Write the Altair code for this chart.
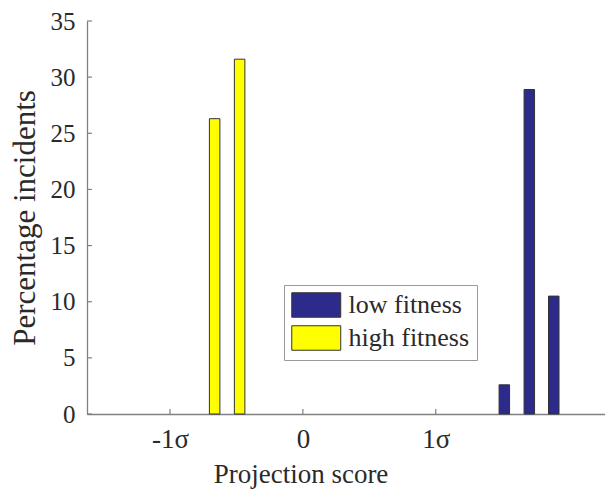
import altair as alt
import pandas as pd

# ---- data ----
group = ["high fitness", "high fitness", "low fitness", "low fitness", "low fitness"]
score = [-0.664, -0.476, 1.516, 1.704, 1.888]          # bin centres in units of sigma
percent = [26.3, 31.6, 2.6, 28.9, 10.5]                # percentage incidents

y_ticks = [0, 5, 10, 15, 20, 25, 30, 35]
x_ticks = [-1, 0, 1]
x_tick_labels = ["-1σ", "0", "1σ"]
legend_order = ["low fitness", "high fitness"]
legend_colors = ["#2c2b8c", "#ffff00"]

FONT = "Liberation Serif"
TXT = "#2a2a2a"
AX = "#808080"

df = pd.DataFrame({"group": group, "score": score, "percent": percent})
ytick_df = pd.DataFrame({"v": y_ticks})
xtick_df = pd.DataFrame({"v": x_ticks})

label_expr = " : ".join(
    f"datum.value == {v} ? '{l}'" for v, l in zip(x_ticks[:-1], x_tick_labels[:-1])
) + f" : '{x_tick_labels[-1]}'"

xscale = alt.Scale(domain=[-1.587, 2.236], nice=False, zero=False)
yscale = alt.Scale(domain=[0, 35], nice=False)

xaxis = alt.Axis(
    values=x_ticks, labelExpr=label_expr, title="Projection score",
    grid=False, ticks=False, tickSize=0, labelPadding=12, labelFontSize=27,
    labelFont=FONT, labelColor=TXT, domainColor=AX, domainWidth=1.3,
    titleFont=FONT, titleFontSize=27, titleFontWeight="normal",
    titleColor=TXT, titleX=213.5, titleY=68,
    titleBaseline="alphabetic", titleAlign="center",
)
yaxis = alt.Axis(
    values=y_ticks, title="Percentage incidents", grid=False,
    ticks=False, tickSize=0, labelPadding=12, labelFontSize=25, labelFont=FONT,
    labelColor=TXT, domainColor=AX, domainWidth=1.3,
    titleFont=FONT, titleFontSize=31, titleFontWeight="normal",
    titleColor=TXT, titleX=-53, titleY=196.5, titleAngle=270,
    titleBaseline="alphabetic", titleAlign="center",
)

bars = alt.Chart(df).mark_bar(
    size=10.5, stroke="#333333", strokeWidth=1, orient="vertical", opacity=1
).encode(
    x=alt.X("score:Q", scale=xscale, axis=xaxis),
    y=alt.Y("percent:Q", scale=yscale, stack=None, axis=yaxis),
    color=alt.Color(
        "group:N",
        scale=alt.Scale(domain=legend_order, range=legend_colors),
        legend=alt.Legend(
            title=None, orient="none", legendX=197, legendY=264,
            symbolType="M-1,-1H3V1H-1Z", symbolSize=600,
            symbolStrokeColor="#333333", symbolStrokeWidth=1,
            symbolOpacity=1, labelFont=FONT, labelFontSize=26,
            labelColor=TXT, labelOffset=31.5, rowPadding=3, padding=7,
            fillColor="white", strokeColor="#9a9a9a",
        ),
    ),
)

yticks = alt.Chart(ytick_df).mark_rule(color=AX, strokeWidth=1.2).encode(
    y=alt.Y("v:Q", scale=yscale, axis=yaxis),
    x=alt.value(0), x2=alt.value(5),
)
xticks = alt.Chart(xtick_df).mark_rule(color=AX, strokeWidth=1.2).encode(
    x=alt.X("v:Q", scale=xscale, axis=xaxis),
    y=alt.value(393), y2=alt.value(388),
)

chart = alt.layer(bars, yticks, xticks).properties(
    width=518, height=393,
    padding={"left": 79, "top": 13, "right": 0, "bottom": 76},
    autosize=alt.AutoSizeParams(type="none"),
).configure(background="white").configure_view(stroke=None)

chart.save("out.html", embed_options={"renderer": "svg", "actions": False})
